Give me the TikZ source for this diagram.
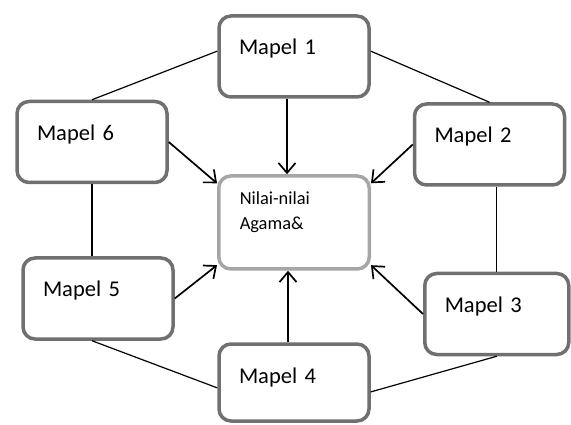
\documentclass[tikz,border=0pt]{standalone}
\usepackage{fontspec}
\setmainfont{Carlito}
\usepackage{tikz}
\usetikzlibrary{arrows.meta, positioning}

\begin{document}
\begin{tikzpicture}[x=1pt, y=-1pt, >={Straight Barb[length=10pt,width=17pt]},
  mapel/.style={draw=black!56, line width=3.5pt, rounded corners=12pt, fill=white,
    text width=110pt, inner xsep=20pt, inner ysep=0pt, align=left,
    text height=39pt, text depth=42pt, font=\fontsize{22.5}{26}\selectfont},
  pusat/.style={mapel, draw=black!35, text width=108.5pt, inner xsep=21pt,
    text height=29pt, text depth=64pt, font=\fontsize{18.4}{25}\selectfont},
  garis/.style={line width=1.2pt},
  panah/.style={line width=1.7pt, ->}]
\useasboundingbox (0,0) rectangle (571,425);
%
\node (nilai) [pusat] at (294,222.5) {Nilai-nilai\\Agama\&};
%
\node (m1) [mapel] at (294,56.5)   {Mapel 1};
\node (m2) [mapel] at (489.5,144.5) {Mapel 2};
\node (m3) [mapel, text width=104pt] at (496.75,314) {Mapel 3};
\node (m4) [mapel, text depth=38pt] at (294,382.5) {Mapel 4};
\node (m5) [mapel] at (98,298.5)   {Mapel 5};
\node (m6) [mapel] at (92,142)     {Mapel 6};
%
\draw[garis] (m1.176) -- (m6.north);
\draw[garis] (m1.4)   -- (m2.north);
\draw[garis] (m3.north) -- (m3.north |- m2.south);
\draw[garis] (m3.south) -- (m4.353);
\draw[garis] (m4.184) -- (m6.south |- m5.south);
\draw[garis] (m6.south) -- (m6.south |- m5.north);
%
\draw[panah] ([xshift=-7pt]m1.south) -- ([xshift=-7pt]nilai.north);
\draw[panah] ([xshift=-6pt]m4.north) -- ([xshift=-6pt]nilai.south);
\foreach \a/\b in {m6.east/nilai.153, m2.west/nilai.27, m3.west/nilai.331, m5.east/nilai.209}
  \draw[panah] (\a) -- (\b);
\end{tikzpicture}
\end{document}
